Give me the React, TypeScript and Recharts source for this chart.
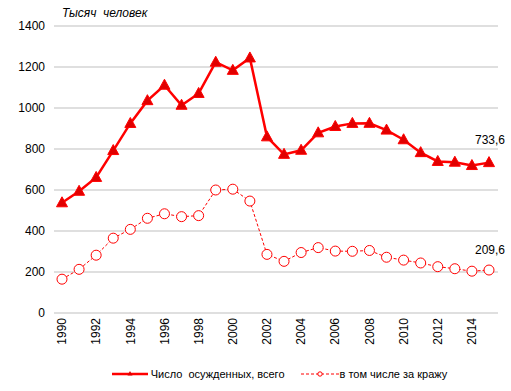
import React from "react";
import { LineChart, Line, XAxis, YAxis, CartesianGrid, LabelList } from "recharts";

// годы и значения (тыс. человек)
const years = [
  "1990", "1991", "1992", "1993", "1994", "1995", "1996", "1997", "1998", "1999",
  "2000", "2001", "2002", "2003", "2004", "2005", "2006", "2007", "2008", "2009",
  "2010", "2011", "2012", "2013", "2014", "2015",
];
const totalConvicted = [
  537.6, 593.8, 661.4, 792.4, 924.6, 1035.8, 1111.1, 1013.4, 1071.1, 1223.3,
  1183.6, 1244.2, 859.3, 773.9, 793.9, 878.9, 909.9, 925, 925.2, 892.2,
  845.1, 782.3, 739.3, 735.6, 719.3, 733.6,
];
const theftConvicted = [
  165, 213, 282, 365, 408, 462, 484, 470, 475, 600,
  604, 546, 286, 252, 295, 319, 302, 301, 305, 272,
  258, 244, 226, 216, 204, 209.6,
];
const yTicks = [0, 200, 400, 600, 800, 1000, 1200, 1400];

const data = years.map((y, i) => ({ year: y, total: totalConvicted[i], theft: theftConvicted[i] }));

const FONT = "'Liberation Sans', Arial, sans-serif";
const RED = "#FF0000";

const Triangle = (props: any) => {
  const { cx, cy } = props;
  if (cx == null || cy == null) return null;
  return (
    <polygon
      points={`${cx},${cy - 6} ${cx - 5.5},${cy + 4} ${cx + 5.5},${cy + 4}`}
      fill="#E00000"
      stroke={RED}
      strokeWidth={1}
    />
  );
};

const YearTick = (props: any) => {
  const { x, y, payload } = props;
  return (
    <g transform={`translate(${x},${y + 5})`}>
      <text transform="rotate(-90)" textAnchor="end" dy="0.35em" fontSize={12} fill="#000" fontFamily={FONT}>
        {payload.value}
      </text>
    </g>
  );
};

const lastLabel = (offset: number) => (props: any) => {
  const { x, y, value, index } = props;
  if (index !== years.length - 1) return null;
  return (
    <text x={x + 1} y={y - offset} textAnchor="middle" fontSize={12} fill="#000" fontFamily={FONT}>
      {String(value).replace(".", ",")}
    </text>
  );
};

const LegendBox = () => (
  <div
    style={{
      position: "absolute", left: 0, top: 368, width: 511, display: "flex", justifyContent: "center",
      alignItems: "center", fontFamily: FONT, fontSize: 11, color: "#000", paddingLeft: 48, boxSizing: "border-box",
    }}
  >
    <svg width={36} height={10} style={{ marginRight: 3 }}>
      <line x1={0} y1={5} x2={36} y2={5} stroke={RED} strokeWidth={2.5} />
      <polygon points="18,2 15.5,6.5 20.5,6.5" fill="#E00000" />
    </svg>
    <span style={{ whiteSpace: "pre", marginRight: 16 }}>Число  осужденных, всего</span>
    <svg width={38} height={10} style={{ marginRight: 1 }}>
      <line x1={0} y1={5} x2={38} y2={5} stroke={RED} strokeWidth={1} strokeDasharray="3 2" />
      <circle cx={19} cy={5} r={2.2} fill="#fff" stroke={RED} strokeWidth={1} />
    </svg>
    <span>в том числе за кражу</span>
  </div>
);

export default function App() {
  return (
    <div style={{ position: "absolute", left: 0, top: 0, width: 511, height: 391, background: "#fff" }}>
      <div style={{ position: "absolute", left: 62, top: 6, fontFamily: FONT, fontSize: 12, fontStyle: "italic", whiteSpace: "pre", zIndex: 1 }}>
        Тысяч  человек
      </div>
      <LineChart width={511} height={391} data={data} margin={{ top: 26, right: 13, bottom: 38, left: 0 }}>
        <CartesianGrid vertical={false} stroke="#BFBFBF" />
        <XAxis
          dataKey="year"
          interval={1}
          axisLine={false}
          tickLine={false}
          tickSize={0}
          tickMargin={0}
          height={40}
          padding={{ left: 8, right: 9 }}
          tick={<YearTick />}
        />
        <YAxis
          domain={[0, 1400]}
          ticks={yTicks}
          axisLine={false}
          tickLine={false}
          tickSize={0}
          tickMargin={9}
          width={54}
          tick={{ fontSize: 12, fill: "#000", fontFamily: FONT }}
        />
        <Line
          type="linear"
          dataKey="total"
          stroke={RED}
          strokeWidth={2.5}
          dot={<Triangle />}
          activeDot={false}
          isAnimationActive={false}
        >
          <LabelList dataKey="total" content={lastLabel(19)} />
        </Line>
        <Line
          type="linear"
          dataKey="theft"
          stroke={RED}
          strokeWidth={1}
          strokeDasharray="3 2"
          dot={{ r: 5, fill: "#fff", stroke: RED, strokeWidth: 1, strokeDasharray: "" }}
          activeDot={false}
          isAnimationActive={false}
        >
          <LabelList dataKey="theft" content={lastLabel(16)} />
        </Line>
      </LineChart>
      <LegendBox />
    </div>
  );
}
